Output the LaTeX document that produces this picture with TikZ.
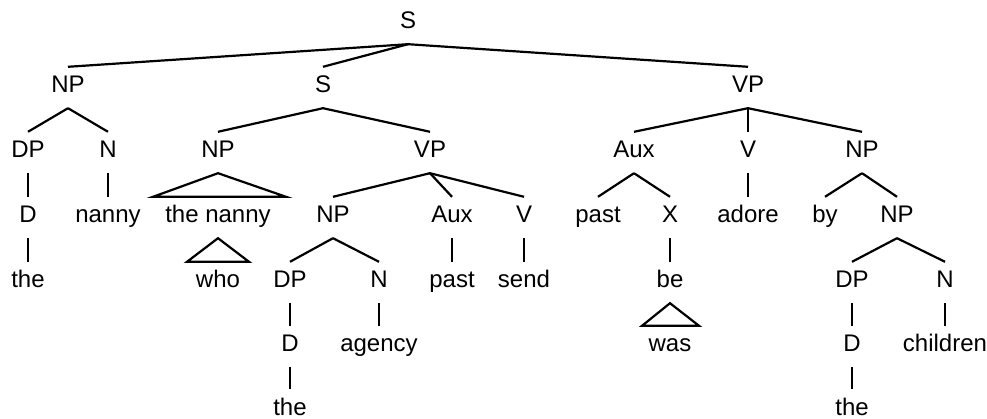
\documentclass[tikz,border=0pt]{standalone}
\usepackage{fontspec}
\setmainfont{Liberation Sans}
\tikzset{
  tn/.style={anchor=base, inner xsep=0pt, inner ysep=4pt, text height=22pt, text depth=11pt,
    font=\fontsize{24pt}{28pt}\selectfont},
  leaf/.style={tn, text depth=0pt, inner ysep=0pt, text height=26pt},
  br/.style={line width=2.2pt, line cap=butt},
  tri/.style={line width=2.2pt, line join=miter}
}
\begin{document}
\begin{tikzpicture}[x=1pt,y=-1pt]
\useasboundingbox (0,0) rectangle (987,419);
% row 0
\node[tn] (s0) at (408,29) {S};
% row 1
\node[tn] (np1) at (68,93) {NP};
\node[tn] (s1) at (323,93) {S};
\node[tn] (vp1) at (748,93) {VP};
% row 2
\node[tn] (dp2) at (28,158) {DP};
\node[tn] (n2) at (108,158) {N};
\node[tn] (np2) at (218,158) {NP};
\node[tn] (vp2) at (430,158) {VP};
\node[tn] (aux2) at (634,158) {Aux};
\node[tn] (v2) at (748,158) {V};
\node[tn] (np2b) at (862,158) {NP};
% row 3
\node[tn] (d3) at (28,223) {D};
\node[tn] (nanny3) at (108,223) {nanny};
\node[tn] (thenanny3) at (218,223) {the nanny};
\node[tn] (np3) at (333,223) {NP};
\node[tn] (aux3) at (452,223) {Aux};
\node[tn] (v3) at (524,223) {V};
\node[tn] (past3) at (598,223) {past};
\node[tn] (x3) at (670,223) {X};
\node[tn] (adore3) at (748,223) {adore};
\node[tn] (by3) at (825,223) {by};
\node[tn] (np3b) at (897,223) {NP};
% row 4
\node[tn] (the4) at (28,288) {the};
\node[tn] (who4) at (218,288) {who};
\node[tn] (dp4) at (290,288) {DP};
\node[tn] (n4) at (379,288) {N};
\node[tn] (past4) at (452,288) {past};
\node[tn] (send4) at (524,288) {send};
\node[tn] (be4) at (670,288) {be};
\node[tn] (dp4b) at (852,288) {DP};
\node[tn] (n4b) at (945,288) {N};
% row 5
\node[tn] (d5) at (290,352) {D};
\node[tn] (agency5) at (379,352) {agency};
\node[tn] (was5) at (670,352) {was};
\node[tn] (d5b) at (852,352) {D};
\node[tn] (children5) at (945,352) {children};
% row 6
\node[leaf] (the6) at (290,415) {the};
\node[leaf] (the6b) at (852,415) {the};

% branches
\draw[br] (s0.south) -- (np1.north);
\draw[br] (s0.south) -- (s1.north);
\draw[br] (s0.south) -- (vp1.north);

\draw[br] (np1.south) -- (dp2.north);
\draw[br] (np1.south) -- (n2.north);
\draw[br] (s1.south) -- (np2.north);
\draw[br] (s1.south) -- (vp2.north);
\draw[br] (vp1.south) -- (aux2.north);
\draw[br] (vp1.south) -- (v2.north);
\draw[br] (vp1.south) -- (np2b.north);

\draw[br] (dp2.south) -- (d3.north);
\draw[br] (n2.south) -- (nanny3.north);
\draw[tri] (np2.south) -- ([xshift=-65pt]thenanny3.north) -- ([xshift=68pt]thenanny3.north) -- cycle;
\draw[br] (vp2.south) -- (np3.north);
\draw[br] (vp2.south) -- (aux3.north);
\draw[br] (vp2.south) -- (v3.north);
\draw[br] (aux2.south) -- (past3.north);
\draw[br] (aux2.south) -- (x3.north);
\draw[br] (v2.south) -- (adore3.north);
\draw[br] (np2b.south) -- (by3.north);
\draw[br] (np2b.south) -- (np3b.north);

\draw[br] (d3.south) -- (the4.north);
\draw[tri] (thenanny3.south) -- ([xshift=-31pt]who4.north) -- ([xshift=31pt]who4.north) -- cycle;
\draw[br] (np3.south) -- (dp4.north);
\draw[br] (np3.south) -- (n4.north);
\draw[br] (aux3.south) -- (past4.north);
\draw[br] (v3.south) -- (send4.north);
\draw[br] (x3.south) -- (be4.north);
\draw[br] (np3b.south) -- (dp4b.north);
\draw[br] (np3b.south) -- (n4b.north);

\draw[br] (dp4.south) -- (d5.north);
\draw[br] (n4.south) -- (agency5.north);
\draw[tri] (be4.south) -- ([xshift=-28pt]was5.north) -- ([xshift=29pt]was5.north) -- cycle;
\draw[br] (dp4b.south) -- (d5b.north);
\draw[br] (n4b.south) -- (children5.north);

\draw[br] (d5.south) -- (the6.north);
\draw[br] (d5b.south) -- (the6b.north);
\end{tikzpicture}
\end{document}
